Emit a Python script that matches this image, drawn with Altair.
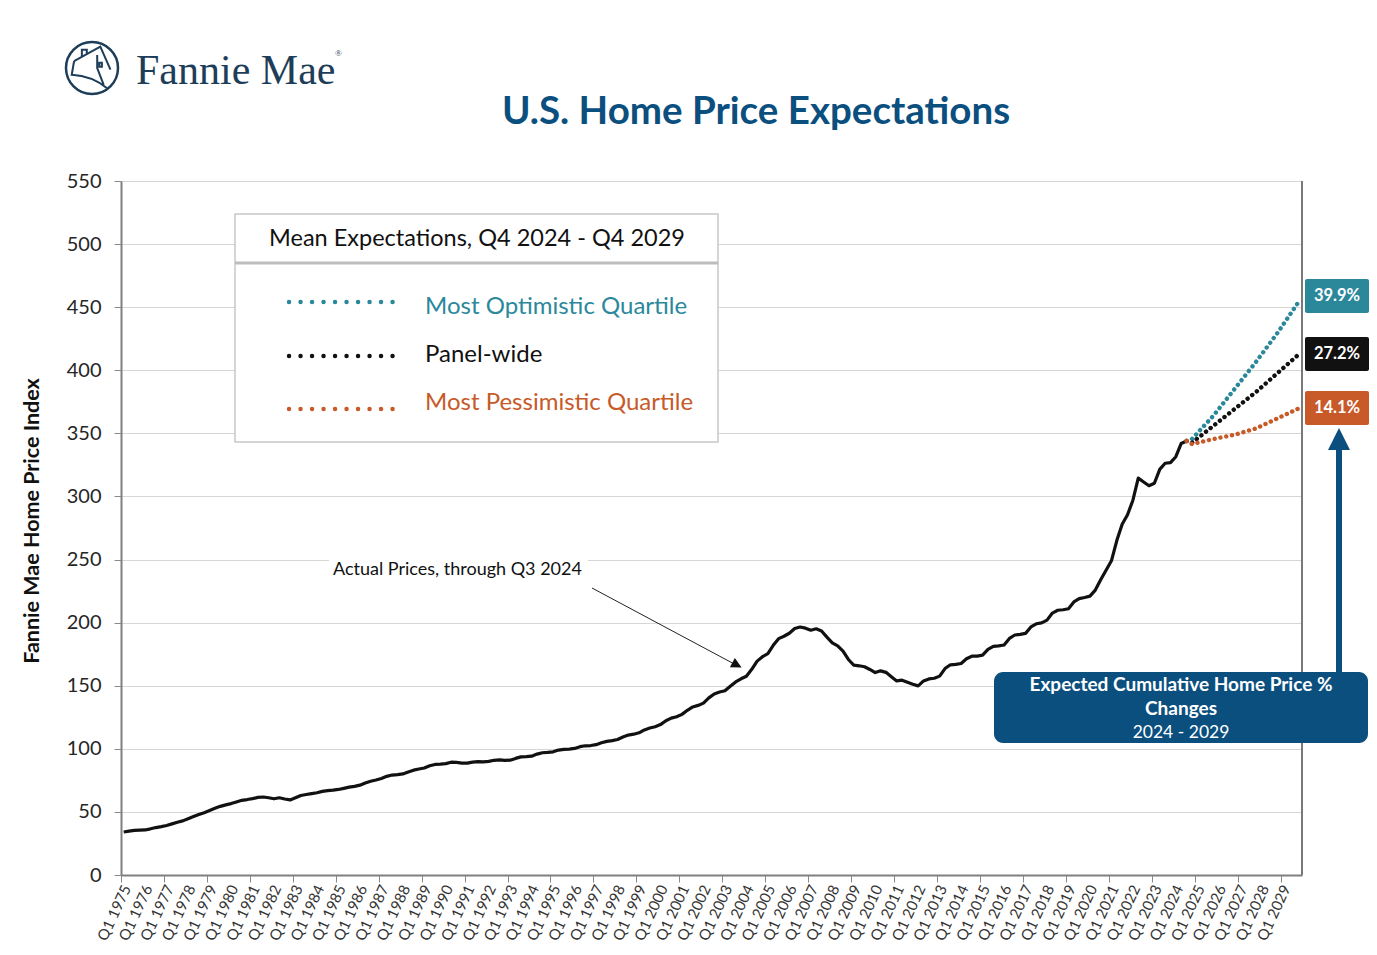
import altair as alt
import pandas as pd

# ---------------- data ----------------
first_year = 1975
years = list(range(1975, 2030))
quarter_labels = [f"Q{q} {y}" for y in years for q in range(1, 5)]   # Q1 1975 .. Q4 2029
tick_labels = [f"Q1 {y}" for y in years]                             # one Q1 label per year

# Fannie Mae Home Price Index, quarterly, Q1 1975 - Q3 2024
actual_index = [
    34.1, 34.8, 35.3, 35.5,      # 1975
    35.7, 36.6, 37.6, 38.3,      # 1976
    39.2, 40.5, 41.8, 42.9,      # 1977
    44.6, 46.3, 47.9, 49.4,      # 1978
    51.1, 52.9, 54.4, 55.6,      # 1979
    56.6, 57.9, 59.2, 59.8,      # 1980
    60.5, 61.5, 61.8, 61.2,      # 1981
    60.4, 61.2, 60.2, 59.5,      # 1982
    61.2, 63.0, 63.8, 64.5,      # 1983
    65.2, 66.3, 66.8, 67.2,      # 1984
    67.8, 68.7, 69.6, 70.2,      # 1985
    71.2, 72.9, 74.3, 75.3,      # 1986
    76.5, 78.2, 79.2, 79.6,      # 1987
    80.1, 81.6, 83.1, 84.0,      # 1988
    84.8, 86.6, 87.6, 87.9,      # 1989
    88.3, 89.4, 89.2, 88.6,      # 1990
    88.7, 89.5, 89.8, 89.7,      # 1991
    90.0, 90.9, 91.3, 90.8,      # 1992
    91.0, 92.4, 93.6, 93.8,      # 1993
    94.2, 95.8, 96.9, 97.2,      # 1994
    97.6, 99.0, 99.6, 99.8,      # 1995
    100.3, 101.7, 102.4, 102.6,  # 1996
    103.3, 104.8, 105.9, 106.5,  # 1997
    107.4, 109.4, 110.9, 111.6,  # 1998
    112.7, 115.0, 116.5, 117.5,  # 1999
    119.2, 122.3, 124.3, 125.4,  # 2000
    127.3, 130.5, 133.2, 134.4,  # 2001
    136.2, 140.4, 143.5, 145.0,  # 2002
    146.0, 149.5, 153.0, 155.5,  # 2003
    157.5, 163.0, 169.5, 173.0,  # 2004
    175.5, 182.0, 187.3, 189.2,  # 2005
    191.6, 195.3, 196.5, 195.6,  # 2006
    194.0, 195.1, 193.4, 188.5,  # 2007
    184.0, 181.6, 177.4, 170.8,  # 2008
    166.3, 165.8, 165.0, 162.9,  # 2009
    160.4, 161.8, 160.6, 157.2,  # 2010
    153.8, 154.4, 152.8, 151.2,  # 2011
    149.9, 153.8, 155.4, 155.9,  # 2012
    157.6, 163.6, 166.6, 166.9,  # 2013
    167.6, 171.4, 173.4, 173.5,  # 2014
    174.2, 178.8, 181.2, 181.6,  # 2015
    182.3, 187.5, 190.2, 190.7,  # 2016
    191.5, 196.6, 199.1, 199.8,  # 2017
    202.0, 207.6, 209.8, 210.2,  # 2018
    211.0, 216.4, 219.0, 219.9,  # 2019
    221.0, 225.8, 234.0, 241.5,  # 2020
    249.0, 265.0, 278.0, 285.5,  # 2021
    297.0, 314.5, 311.5, 308.5,  # 2022
    310.5, 321.5, 326.3, 326.8,  # 2023
    331.5, 342.0, 344.0,         # 2024 (through Q3)
]

forecast_quarters = ["Q3 2024", "Q4 2024", "Q4 2025", "Q4 2026", "Q4 2027", "Q4 2028", "Q4 2029"]
optimistic = [344.0, 345.5, 364.0, 385.5, 407.0, 430.0, 455.0]
panel_wide = [344.0, 342.5, 356.0, 369.5, 383.0, 398.0, 413.0]
pessimistic = [344.0, 341.5, 345.5, 349.0, 354.0, 362.0, 370.0]

series_names = ["Most Optimistic Quartile", "Panel-wide", "Most Pessimistic Quartile"]
series_colors = ["#2B889B", "#111111", "#C75A28"]
pct_changes = ["39.9%", "27.2%", "14.1%"]

y_ticks = list(range(0, 551, 50))

# ---------------- frames ----------------
actual_df = pd.DataFrame({
    "quarter": quarter_labels[:len(actual_index)],
    "pos": [i + 0.5 for i in range(len(actual_index))],
    "value": actual_index,
})

fc_rows = []
for name, vals in zip(series_names, [optimistic, panel_wide, pessimistic]):
    for q, v in zip(forecast_quarters, vals):
        fc_rows.append({"series": name, "quarter": q,
                        "pos": quarter_labels.index(q) + 0.5, "value": v})
fc_df = pd.DataFrame(fc_rows)

tick_df = pd.DataFrame({
    "label": tick_labels,
    "pos": [quarter_labels.index(t) + 1.1 for t in tick_labels],
})

dummy = alt.Data(values=[{"a": 1}])

FONT = "Lato"
BLUE = "#0B4F7F"
LOGO = "#1D3D58"

n_q = len(quarter_labels)
x_scale = alt.Scale(domain=[0, n_q], nice=False, zero=False)
y_scale = alt.Scale(domain=[0, 550], nice=False)

# ---------------- base plot ----------------
actual_line = alt.Chart(actual_df).mark_line(
    color="#111111", strokeWidth=3.2, strokeJoin="round", clip=True
).encode(
    x=alt.X("pos:Q", scale=x_scale, axis=alt.Axis(
        values=list(range(0, n_q + 1, 4)), labels=False,
        tickColor="#8a8a8a", tickSize=7, tickWidth=1,
        domainColor="#808080", domainWidth=2, grid=False, title=None)),
    y=alt.Y("value:Q", scale=y_scale, axis=alt.Axis(
        values=y_ticks, labelFontSize=20, labelFont=FONT, labelColor="#262626",
        labelPadding=13, tickColor="#8a8a8a", tickSize=7,
        domainColor="#808080", domainWidth=2,
        grid=True, gridColor="#D7D6D4", gridWidth=1, title=None)),
)

x_labels = alt.Chart(tick_df).mark_text(
    angle=295, align="right", baseline="middle", fontSize=15, font=FONT, color="#333333"
).encode(
    x=alt.X("pos:Q", scale=x_scale),
    y=alt.value(705),
    text="label:N",
)

fc_lines = alt.Chart(fc_df).mark_line(
    strokeDash=[0.1, 5.8], strokeCap="round", strokeWidth=4.4
).encode(
    x=alt.X("pos:Q", scale=x_scale),
    y=alt.Y("value:Q", scale=y_scale),
    color=alt.Color("series:N", scale=alt.Scale(domain=series_names, range=series_colors), legend=None),
    detail="series:N",
)

def txt(text, x, y, size, color="#111111", weight="normal", align="center",
        baseline="middle", font=FONT, angle=0):
    return alt.Chart(dummy).mark_text(
        text=text, fontSize=size, color=color, fontWeight=weight, align=align,
        baseline=baseline, font=font, angle=angle
    ).encode(x=alt.value(x), y=alt.value(y))

def box(x, x2, y, y2, fill, stroke=None, sw=0, radius=0):
    kw = dict(fill=fill, cornerRadius=radius)
    if stroke:
        kw.update(stroke=stroke, strokeWidth=sw)
    return alt.Chart(dummy).mark_rect(**kw).encode(
        x=alt.value(x), x2=alt.value(x2), y=alt.value(y), y2=alt.value(y2))

def rule(x, x2, y, y2, color, sw, dash=None, cap="butt"):
    kw = dict(color=color, strokeWidth=sw, strokeCap=cap)
    if dash:
        kw["strokeDash"] = dash
    return alt.Chart(dummy).mark_rule(**kw).encode(
        x=alt.value(x), x2=alt.value(x2), y=alt.value(y), y2=alt.value(y2))

TRI = "M 0 -1 L 1 1 L -1 1 Z"

def marker(shape, x, y, size, color, filled=True, angle=0, sw=1):
    kw = dict(shape=shape, size=size, filled=filled, angle=angle, opacity=1)
    if filled:
        kw.update(fill=color, strokeWidth=0)
    else:
        kw.update(stroke=color, strokeWidth=sw)
    return alt.Chart(dummy).mark_point(**kw).encode(x=alt.value(x), y=alt.value(y))

layers = []

# right border of plot area
layers.append(rule(1181, 1181, 0, 694, "#7a7a7a", 2))

# legend box
layers.append(box(114, 597, 33, 261, "white", "#C8C8C8", 1.5))
layers.append(rule(114, 597, 82, 82, "#BDBDBD", 3))
layers.append(txt("Mean Expectations, Q4 2024 - Q4 2029", 356, 58, 23.5))
legend_line_y = [121, 175, 228]
legend_text_y = [126, 174, 222]
for i, (name, col) in enumerate(zip(series_names, series_colors)):
    layers.append(rule(168, 272, legend_line_y[i], legend_line_y[i], col, 4.4,
                       dash=[0.1, 11.4], cap="round"))
    layers.append(txt(name, 304, legend_text_y[i], 24, color=col, align="left"))

# annotation for actual prices
layers.append(box(208, 467, 375, 402, "white"))
layers.append(txt("Actual Prices, through Q3 2024", 212, 389, 18, align="left"))
layers.append(rule(471, 617, 407, 485, "#222222", 1))

base_layers = [actual_line, x_labels, fc_lines]

overlay = []
overlay.append(marker(TRI, 616, 484, 110, "#111111", angle=118))

# percent boxes on the right
box_y = [(98, 132), (156, 190), (210, 244)]
for (y0, y1), col, pct in zip(box_y, series_colors, pct_changes):
    overlay.append(box(1184, 1248, y0, y1, col, radius=2))
    overlay.append(txt(pct, 1216, (y0 + y1) / 2, 16.5, color="white", weight="bold"))

# blue arrow and caption box
overlay.append(rule(1218, 1218, 266, 492, BLUE, 6))
overlay.append(marker(TRI, 1218, 258, 484, BLUE))
overlay.append(box(873, 1247, 491, 562, BLUE, radius=9))
overlay.append(txt("Expected Cumulative Home Price %", 1060, 504, 19, color="white", weight="bold"))
overlay.append(txt("Changes", 1060, 528, 19, color="white", weight="bold"))
overlay.append(txt("2024 - 2029", 1060, 552, 17.5, color="white"))

# titles
overlay.append(txt("U.S. Home Price Expectations", 635, -69, 38.5, color=BLUE, weight="bold"))
overlay.append(txt("Fannie Mae Home Price Index", -88, 340, 21.5, weight="bold", angle=270))

# logo
overlay.append(marker("circle", -29, -113, 2704, LOGO, filled=False, sw=2.5))
house = ("M -0.69 -0.26 L 0.32 -0.82 L 0.71 0.06 "
         "M -0.69 -0.26 L -0.78 0.26 Q 0 0.3 0.58 0.78 "
         "M 0.2 -0.5 L 0.2 0 L 0.45 0.65 "
         "M -0.39 -0.45 L -0.39 -0.7 L -0.2 -0.7 L -0.2 -0.55 "
         "M 0.28 -0.2 L 0.38 -0.2 L 0.38 -0.05 L 0.28 -0.05 Z")
overlay.append(marker(house, -29, -113, 2704, LOGO, filled=False, sw=2))
overlay.append(txt("Fannie Mae", 15, -97, 42, color=LOGO, align="left",
                   baseline="alphabetic", font="Liberation Serif"))
overlay.append(txt("®", 214, -128, 9, color=LOGO, align="left", font="Liberation Serif"))

chart = alt.layer(*layers, *base_layers, *overlay).properties(
    width=1181, height=694,
    autosize=alt.AutoSizeParams(type="none"),
    padding={"left": 113, "top": 173, "right": 67, "bottom": 70},
).configure_view(
    fill="#EAE9E7", stroke="#CFCFCF", strokeWidth=1
).configure(background="white")

chart.save("out.html", embed_options={"renderer": "svg", "actions": False})
